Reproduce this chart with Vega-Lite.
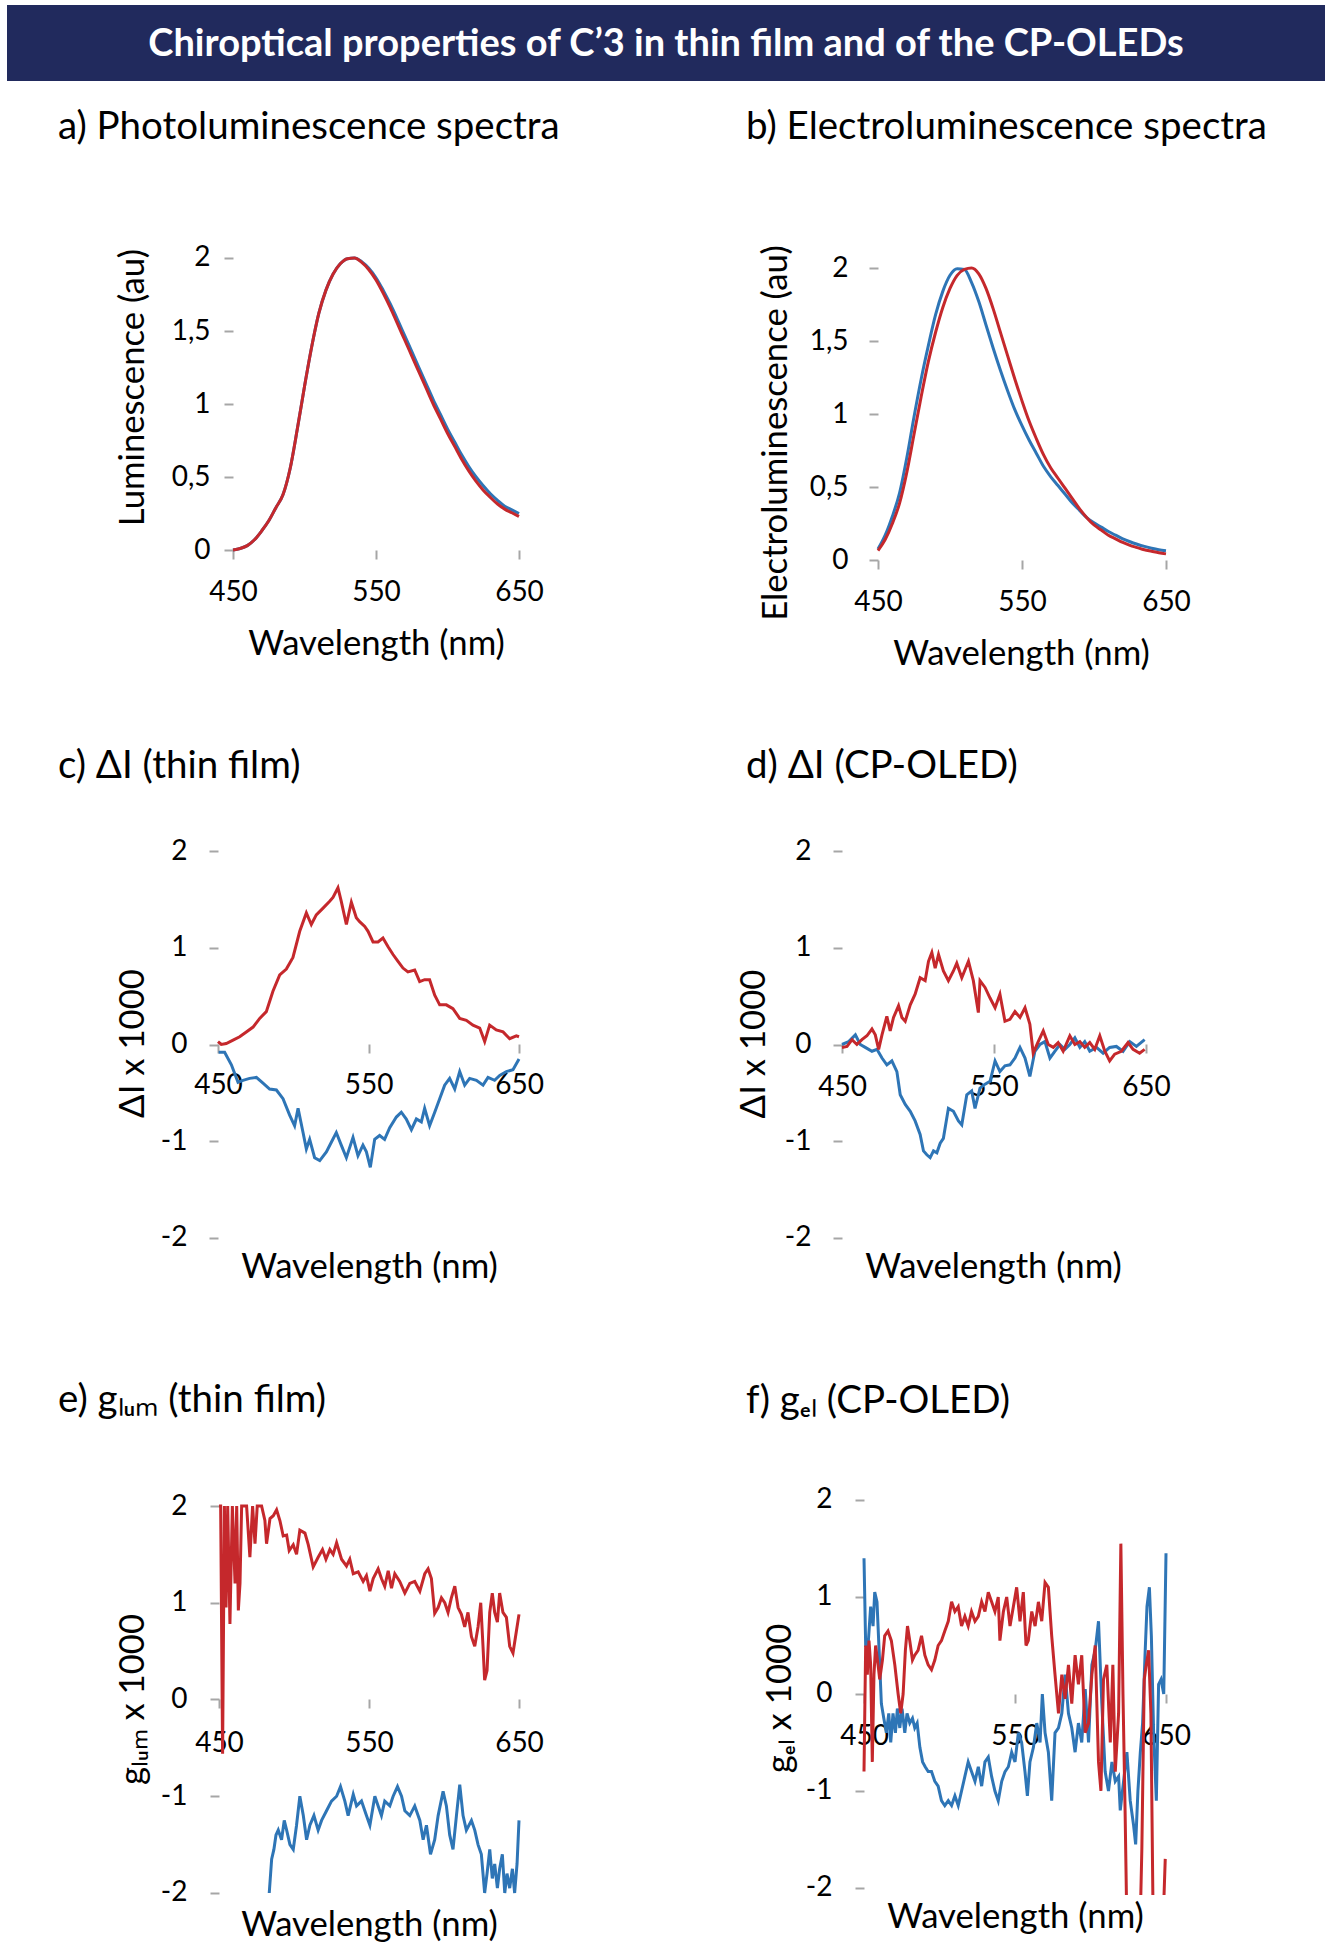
{
  "$schema": "https://vega.github.io/schema/vega-lite/v6.json",
  "padding": {"left": 7, "top": 5, "right": 0, "bottom": 0},
  "background": "white",
  "config": {
    "font": "Lato",
    "view": {"stroke": null},
    "axis": {"domain": false, "grid": false, "ticks": true, "tickColor": "#a6a6a6", "tickWidth": 2, "tickSize": 9, "labelFont": "Lato", "labelFontSize": 28, "labelColor": "#000000", "labelFlush": false, "labelOverlap": false, "titleFont": "Lato", "titleFontSize": 34.7, "titleFontWeight": "normal", "titleColor": "#000000"},
    "title": {"font": "Lato", "fontSize": 38.5, "fontWeight": "normal", "color": "#000000", "anchor": "start", "frame": "group", "baseline": "alphabetic"}
  },
  "datasets": {
    "axisline": [{"line": "axis"}],
    "pl": [
      {"nm":450,"v":0.00,"s":"A"},{"nm":455,"v":0.01,"s":"A"},{"nm":460,"v":0.03,"s":"A"},{"nm":465,"v":0.07,"s":"A"},{"nm":470,"v":0.13,"s":"A"},{"nm":475,"v":0.20,"s":"A"},{"nm":480,"v":0.29,"s":"A"},{"nm":485,"v":0.38,"s":"A"},{"nm":490,"v":0.56,"s":"A"},{"nm":495,"v":0.83,"s":"A"},{"nm":500,"v":1.12,"s":"A"},{"nm":505,"v":1.39,"s":"A"},{"nm":510,"v":1.62,"s":"A"},{"nm":515,"v":1.78,"s":"A"},{"nm":520,"v":1.89,"s":"A"},{"nm":525,"v":1.96,"s":"A"},{"nm":530,"v":1.995,"s":"A"},{"nm":535,"v":2.0,"s":"A"},{"nm":540,"v":1.975,"s":"A"},{"nm":545,"v":1.93,"s":"A"},{"nm":550,"v":1.865,"s":"A"},{"nm":555,"v":1.78,"s":"A"},{"nm":560,"v":1.685,"s":"A"},{"nm":565,"v":1.58,"s":"A"},{"nm":570,"v":1.47,"s":"A"},{"nm":575,"v":1.36,"s":"A"},{"nm":580,"v":1.25,"s":"A"},{"nm":585,"v":1.14,"s":"A"},{"nm":590,"v":1.03,"s":"A"},{"nm":595,"v":0.93,"s":"A"},{"nm":600,"v":0.83,"s":"A"},{"nm":605,"v":0.74,"s":"A"},{"nm":610,"v":0.65,"s":"A"},{"nm":615,"v":0.57,"s":"A"},{"nm":620,"v":0.50,"s":"A"},{"nm":625,"v":0.44,"s":"A"},{"nm":630,"v":0.385,"s":"A"},{"nm":635,"v":0.34,"s":"A"},{"nm":640,"v":0.30,"s":"A"},{"nm":645,"v":0.275,"s":"A"},{"nm":650,"v":0.25,"s":"A"},
      {"nm":450,"v":0.00,"s":"B"},{"nm":455,"v":0.01,"s":"B"},{"nm":460,"v":0.03,"s":"B"},{"nm":465,"v":0.07,"s":"B"},{"nm":470,"v":0.13,"s":"B"},{"nm":475,"v":0.20,"s":"B"},{"nm":480,"v":0.29,"s":"B"},{"nm":485,"v":0.38,"s":"B"},{"nm":490,"v":0.56,"s":"B"},{"nm":495,"v":0.83,"s":"B"},{"nm":500,"v":1.12,"s":"B"},{"nm":505,"v":1.39,"s":"B"},{"nm":510,"v":1.62,"s":"B"},{"nm":515,"v":1.78,"s":"B"},{"nm":520,"v":1.89,"s":"B"},{"nm":525,"v":1.96,"s":"B"},{"nm":530,"v":1.995,"s":"B"},{"nm":535,"v":2.0,"s":"B"},{"nm":540,"v":1.97,"s":"B"},{"nm":545,"v":1.92,"s":"B"},{"nm":550,"v":1.85,"s":"B"},{"nm":555,"v":1.76,"s":"B"},{"nm":560,"v":1.66,"s":"B"},{"nm":565,"v":1.55,"s":"B"},{"nm":570,"v":1.44,"s":"B"},{"nm":575,"v":1.33,"s":"B"},{"nm":580,"v":1.22,"s":"B"},{"nm":585,"v":1.11,"s":"B"},{"nm":590,"v":1.00,"s":"B"},{"nm":595,"v":0.90,"s":"B"},{"nm":600,"v":0.80,"s":"B"},{"nm":605,"v":0.71,"s":"B"},{"nm":610,"v":0.62,"s":"B"},{"nm":615,"v":0.54,"s":"B"},{"nm":620,"v":0.47,"s":"B"},{"nm":625,"v":0.41,"s":"B"},{"nm":630,"v":0.36,"s":"B"},{"nm":635,"v":0.315,"s":"B"},{"nm":640,"v":0.28,"s":"B"},{"nm":645,"v":0.255,"s":"B"},{"nm":650,"v":0.23,"s":"B"}
    ],
    "el": [
      {"nm":450,"v":0.075,"s":"A"},{"nm":455,"v":0.17,"s":"A"},{"nm":460,"v":0.30,"s":"A"},{"nm":465,"v":0.46,"s":"A"},{"nm":470,"v":0.70,"s":"A"},{"nm":475,"v":0.98,"s":"A"},{"nm":480,"v":1.24,"s":"A"},{"nm":485,"v":1.47,"s":"A"},{"nm":490,"v":1.68,"s":"A"},{"nm":495,"v":1.84,"s":"A"},{"nm":500,"v":1.95,"s":"A"},{"nm":505,"v":1.995,"s":"A"},{"nm":510,"v":1.99,"s":"A"},{"nm":515,"v":1.90,"s":"A"},{"nm":520,"v":1.77,"s":"A"},{"nm":525,"v":1.61,"s":"A"},{"nm":530,"v":1.45,"s":"A"},{"nm":535,"v":1.30,"s":"A"},{"nm":540,"v":1.16,"s":"A"},{"nm":545,"v":1.03,"s":"A"},{"nm":550,"v":0.92,"s":"A"},{"nm":555,"v":0.82,"s":"A"},{"nm":560,"v":0.73,"s":"A"},{"nm":565,"v":0.64,"s":"A"},{"nm":570,"v":0.57,"s":"A"},{"nm":575,"v":0.51,"s":"A"},{"nm":580,"v":0.45,"s":"A"},{"nm":585,"v":0.39,"s":"A"},{"nm":590,"v":0.34,"s":"A"},{"nm":595,"v":0.29,"s":"A"},{"nm":600,"v":0.255,"s":"A"},{"nm":605,"v":0.225,"s":"A"},{"nm":610,"v":0.195,"s":"A"},{"nm":615,"v":0.17,"s":"A"},{"nm":620,"v":0.145,"s":"A"},{"nm":625,"v":0.125,"s":"A"},{"nm":630,"v":0.108,"s":"A"},{"nm":635,"v":0.093,"s":"A"},{"nm":640,"v":0.08,"s":"A"},{"nm":645,"v":0.07,"s":"A"},{"nm":650,"v":0.064,"s":"A"},
      {"nm":450,"v":0.064,"s":"B"},{"nm":455,"v":0.14,"s":"B"},{"nm":460,"v":0.25,"s":"B"},{"nm":465,"v":0.39,"s":"B"},{"nm":470,"v":0.60,"s":"B"},{"nm":475,"v":0.86,"s":"B"},{"nm":480,"v":1.12,"s":"B"},{"nm":485,"v":1.36,"s":"B"},{"nm":490,"v":1.56,"s":"B"},{"nm":495,"v":1.73,"s":"B"},{"nm":500,"v":1.86,"s":"B"},{"nm":505,"v":1.95,"s":"B"},{"nm":510,"v":1.99,"s":"B"},{"nm":515,"v":2.0,"s":"B"},{"nm":520,"v":1.96,"s":"B"},{"nm":525,"v":1.86,"s":"B"},{"nm":530,"v":1.72,"s":"B"},{"nm":535,"v":1.56,"s":"B"},{"nm":540,"v":1.40,"s":"B"},{"nm":545,"v":1.24,"s":"B"},{"nm":550,"v":1.09,"s":"B"},{"nm":555,"v":0.95,"s":"B"},{"nm":560,"v":0.83,"s":"B"},{"nm":565,"v":0.72,"s":"B"},{"nm":570,"v":0.63,"s":"B"},{"nm":575,"v":0.56,"s":"B"},{"nm":580,"v":0.49,"s":"B"},{"nm":585,"v":0.42,"s":"B"},{"nm":590,"v":0.35,"s":"B"},{"nm":595,"v":0.29,"s":"B"},{"nm":600,"v":0.24,"s":"B"},{"nm":605,"v":0.205,"s":"B"},{"nm":610,"v":0.17,"s":"B"},{"nm":615,"v":0.145,"s":"B"},{"nm":620,"v":0.12,"s":"B"},{"nm":625,"v":0.10,"s":"B"},{"nm":630,"v":0.085,"s":"B"},{"nm":635,"v":0.07,"s":"B"},{"nm":640,"v":0.06,"s":"B"},{"nm":645,"v":0.05,"s":"B"},{"nm":650,"v":0.042,"s":"B"}
    ],
    "dtf": [
      {"nm":450.4,"v":-0.08,"s":"A"},{"nm":454.4,"v":-0.08,"s":"A"},{"nm":458.9,"v":-0.21,"s":"A"},{"nm":463.3,"v":-0.39,"s":"A"},{"nm":466.6,"v":-0.37,"s":"A"},{"nm":471.0,"v":-0.35,"s":"A"},{"nm":475.5,"v":-0.34,"s":"A"},{"nm":479.9,"v":-0.40,"s":"A"},{"nm":484.3,"v":-0.46,"s":"A"},{"nm":488.8,"v":-0.47,"s":"A"},{"nm":493.2,"v":-0.56,"s":"A"},{"nm":497.6,"v":-0.73,"s":"A"},{"nm":500.9,"v":-0.84,"s":"A"},{"nm":503.2,"v":-0.66,"s":"A"},{"nm":506.5,"v":-0.91,"s":"A"},{"nm":508.7,"v":-1.08,"s":"A"},{"nm":510.9,"v":-0.98,"s":"A"},{"nm":514.2,"v":-1.17,"s":"A"},{"nm":517.6,"v":-1.20,"s":"A"},{"nm":522.0,"v":-1.11,"s":"A"},{"nm":525.3,"v":-1.01,"s":"A"},{"nm":528.6,"v":-0.91,"s":"A"},{"nm":531.9,"v":-1.04,"s":"A"},{"nm":535.3,"v":-1.17,"s":"A"},{"nm":539.7,"v":-0.96,"s":"A"},{"nm":543.0,"v":-1.15,"s":"A"},{"nm":546.3,"v":-1.04,"s":"A"},{"nm":548.6,"v":-1.11,"s":"A"},{"nm":551.2,"v":-1.27,"s":"A"},{"nm":554.1,"v":-0.98,"s":"A"},{"nm":557.4,"v":-0.94,"s":"A"},{"nm":560.7,"v":-0.98,"s":"A"},{"nm":564.1,"v":-0.86,"s":"A"},{"nm":568.5,"v":-0.75,"s":"A"},{"nm":571.8,"v":-0.70,"s":"A"},{"nm":575.1,"v":-0.77,"s":"A"},{"nm":578.5,"v":-0.88,"s":"A"},{"nm":581.8,"v":-0.77,"s":"A"},{"nm":585.1,"v":-0.80,"s":"A"},{"nm":587.3,"v":-0.66,"s":"A"},{"nm":590.6,"v":-0.84,"s":"A"},{"nm":594.0,"v":-0.70,"s":"A"},{"nm":597.3,"v":-0.56,"s":"A"},{"nm":600.6,"v":-0.42,"s":"A"},{"nm":603.9,"v":-0.35,"s":"A"},{"nm":607.3,"v":-0.46,"s":"A"},{"nm":610.6,"v":-0.28,"s":"A"},{"nm":613.9,"v":-0.42,"s":"A"},{"nm":617.2,"v":-0.35,"s":"A"},{"nm":621.7,"v":-0.37,"s":"A"},{"nm":626.1,"v":-0.42,"s":"A"},{"nm":629.4,"v":-0.34,"s":"A"},{"nm":633.8,"v":-0.37,"s":"A"},{"nm":637.2,"v":-0.32,"s":"A"},{"nm":641.6,"v":-0.28,"s":"A"},{"nm":646.0,"v":-0.26,"s":"A"},{"nm":650.0,"v":-0.15,"s":"A"},
      {"nm":450.0,"v":0.03,"s":"B"},{"nm":452.2,"v":0.0,"s":"B"},{"nm":455.5,"v":0.01,"s":"B"},{"nm":460.0,"v":0.045,"s":"B"},{"nm":464.4,"v":0.08,"s":"B"},{"nm":468.8,"v":0.13,"s":"B"},{"nm":473.3,"v":0.18,"s":"B"},{"nm":477.7,"v":0.27,"s":"B"},{"nm":482.1,"v":0.34,"s":"B"},{"nm":486.5,"v":0.55,"s":"B"},{"nm":491.0,"v":0.72,"s":"B"},{"nm":495.4,"v":0.78,"s":"B"},{"nm":499.8,"v":0.90,"s":"B"},{"nm":504.3,"v":1.17,"s":"B"},{"nm":508.7,"v":1.36,"s":"B"},{"nm":512.0,"v":1.24,"s":"B"},{"nm":515.3,"v":1.34,"s":"B"},{"nm":519.8,"v":1.41,"s":"B"},{"nm":524.2,"v":1.48,"s":"B"},{"nm":526.4,"v":1.52,"s":"B"},{"nm":529.7,"v":1.62,"s":"B"},{"nm":531.9,"v":1.48,"s":"B"},{"nm":535.3,"v":1.24,"s":"B"},{"nm":538.6,"v":1.47,"s":"B"},{"nm":541.9,"v":1.31,"s":"B"},{"nm":544.1,"v":1.27,"s":"B"},{"nm":547.5,"v":1.22,"s":"B"},{"nm":549.7,"v":1.17,"s":"B"},{"nm":553.0,"v":1.06,"s":"B"},{"nm":556.3,"v":1.06,"s":"B"},{"nm":559.6,"v":1.10,"s":"B"},{"nm":563.0,"v":1.01,"s":"B"},{"nm":566.3,"v":0.93,"s":"B"},{"nm":569.6,"v":0.86,"s":"B"},{"nm":572.9,"v":0.79,"s":"B"},{"nm":576.2,"v":0.75,"s":"B"},{"nm":580.7,"v":0.77,"s":"B"},{"nm":584.0,"v":0.65,"s":"B"},{"nm":587.3,"v":0.67,"s":"B"},{"nm":590.6,"v":0.67,"s":"B"},{"nm":594.0,"v":0.51,"s":"B"},{"nm":597.3,"v":0.41,"s":"B"},{"nm":601.7,"v":0.41,"s":"B"},{"nm":606.1,"v":0.37,"s":"B"},{"nm":610.6,"v":0.27,"s":"B"},{"nm":615.0,"v":0.25,"s":"B"},{"nm":619.4,"v":0.20,"s":"B"},{"nm":623.9,"v":0.17,"s":"B"},{"nm":627.2,"v":0.03,"s":"B"},{"nm":630.5,"v":0.20,"s":"B"},{"nm":634.9,"v":0.15,"s":"B"},{"nm":639.4,"v":0.13,"s":"B"},{"nm":643.8,"v":0.06,"s":"B"},{"nm":648.2,"v":0.09,"s":"B"},{"nm":650.0,"v":0.08,"s":"B"}
    ],
    "dol": [
      {"nm":450.0,"v":0.0,"s":"A"},{"nm":454.4,"v":0.03,"s":"A"},{"nm":458.8,"v":0.10,"s":"A"},{"nm":462.0,"v":0.0,"s":"A"},{"nm":465.3,"v":-0.03,"s":"A"},{"nm":469.7,"v":-0.07,"s":"A"},{"nm":473.0,"v":-0.05,"s":"A"},{"nm":476.3,"v":-0.14,"s":"A"},{"nm":479.5,"v":-0.21,"s":"A"},{"nm":482.8,"v":-0.17,"s":"A"},{"nm":486.1,"v":-0.28,"s":"A"},{"nm":488.3,"v":-0.52,"s":"A"},{"nm":491.6,"v":-0.62,"s":"A"},{"nm":494.9,"v":-0.69,"s":"A"},{"nm":498.1,"v":-0.79,"s":"A"},{"nm":501.4,"v":-0.93,"s":"A"},{"nm":503.6,"v":-1.10,"s":"A"},{"nm":505.8,"v":-1.14,"s":"A"},{"nm":508.0,"v":-1.17,"s":"A"},{"nm":510.2,"v":-1.10,"s":"A"},{"nm":512.4,"v":-1.12,"s":"A"},{"nm":514.6,"v":-1.02,"s":"A"},{"nm":516.7,"v":-0.97,"s":"A"},{"nm":520.0,"v":-0.66,"s":"A"},{"nm":523.3,"v":-0.69,"s":"A"},{"nm":526.6,"v":-0.79,"s":"A"},{"nm":528.8,"v":-0.83,"s":"A"},{"nm":532.1,"v":-0.52,"s":"A"},{"nm":535.3,"v":-0.48,"s":"A"},{"nm":537.5,"v":-0.66,"s":"A"},{"nm":540.8,"v":-0.45,"s":"A"},{"nm":544.1,"v":-0.41,"s":"A"},{"nm":547.4,"v":-0.38,"s":"A"},{"nm":550.7,"v":-0.17,"s":"A"},{"nm":553.9,"v":-0.28,"s":"A"},{"nm":557.2,"v":-0.22,"s":"A"},{"nm":560.5,"v":-0.21,"s":"A"},{"nm":563.8,"v":-0.14,"s":"A"},{"nm":567.1,"v":-0.03,"s":"A"},{"nm":570.4,"v":-0.14,"s":"A"},{"nm":573.6,"v":-0.33,"s":"A"},{"nm":576.9,"v":-0.07,"s":"A"},{"nm":580.2,"v":0.0,"s":"A"},{"nm":583.5,"v":0.03,"s":"A"},{"nm":586.8,"v":-0.14,"s":"A"},{"nm":590.0,"v":-0.07,"s":"A"},{"nm":593.3,"v":0.0,"s":"A"},{"nm":596.6,"v":-0.05,"s":"A"},{"nm":599.9,"v":0.0,"s":"A"},{"nm":603.2,"v":0.07,"s":"A"},{"nm":606.5,"v":-0.03,"s":"A"},{"nm":609.7,"v":0.03,"s":"A"},{"nm":613.0,"v":-0.07,"s":"A"},{"nm":617.4,"v":-0.03,"s":"A"},{"nm":621.8,"v":-0.09,"s":"A"},{"nm":626.1,"v":-0.03,"s":"A"},{"nm":630.5,"v":-0.02,"s":"A"},{"nm":634.9,"v":-0.07,"s":"A"},{"nm":639.3,"v":0.03,"s":"A"},{"nm":643.7,"v":-0.02,"s":"A"},{"nm":649.1,"v":0.05,"s":"A"},
      {"nm":450.0,"v":-0.03,"s":"B"},{"nm":453.3,"v":-0.02,"s":"B"},{"nm":456.6,"v":0.05,"s":"B"},{"nm":459.8,"v":0.0,"s":"B"},{"nm":463.1,"v":0.05,"s":"B"},{"nm":466.4,"v":0.09,"s":"B"},{"nm":469.7,"v":0.16,"s":"B"},{"nm":471.9,"v":0.10,"s":"B"},{"nm":474.1,"v":-0.05,"s":"B"},{"nm":476.3,"v":0.10,"s":"B"},{"nm":479.5,"v":0.29,"s":"B"},{"nm":481.7,"v":0.14,"s":"B"},{"nm":483.9,"v":0.28,"s":"B"},{"nm":487.2,"v":0.40,"s":"B"},{"nm":489.4,"v":0.28,"s":"B"},{"nm":491.6,"v":0.24,"s":"B"},{"nm":494.9,"v":0.41,"s":"B"},{"nm":498.1,"v":0.52,"s":"B"},{"nm":501.4,"v":0.69,"s":"B"},{"nm":504.7,"v":0.66,"s":"B"},{"nm":506.9,"v":0.86,"s":"B"},{"nm":509.1,"v":0.95,"s":"B"},{"nm":511.3,"v":0.79,"s":"B"},{"nm":513.5,"v":0.93,"s":"B"},{"nm":516.7,"v":0.76,"s":"B"},{"nm":520.0,"v":0.66,"s":"B"},{"nm":523.3,"v":0.76,"s":"B"},{"nm":525.5,"v":0.84,"s":"B"},{"nm":528.8,"v":0.69,"s":"B"},{"nm":533.2,"v":0.86,"s":"B"},{"nm":536.4,"v":0.66,"s":"B"},{"nm":539.7,"v":0.33,"s":"B"},{"nm":540.8,"v":0.66,"s":"B"},{"nm":544.1,"v":0.59,"s":"B"},{"nm":547.4,"v":0.48,"s":"B"},{"nm":550.7,"v":0.38,"s":"B"},{"nm":553.9,"v":0.52,"s":"B"},{"nm":557.2,"v":0.24,"s":"B"},{"nm":560.5,"v":0.26,"s":"B"},{"nm":563.8,"v":0.34,"s":"B"},{"nm":567.1,"v":0.28,"s":"B"},{"nm":570.4,"v":0.38,"s":"B"},{"nm":573.6,"v":0.21,"s":"B"},{"nm":575.8,"v":-0.09,"s":"B"},{"nm":579.1,"v":0.03,"s":"B"},{"nm":582.4,"v":0.14,"s":"B"},{"nm":585.7,"v":0.0,"s":"B"},{"nm":589.0,"v":-0.03,"s":"B"},{"nm":592.2,"v":0.02,"s":"B"},{"nm":595.5,"v":-0.07,"s":"B"},{"nm":599.9,"v":0.09,"s":"B"},{"nm":603.2,"v":0.0,"s":"B"},{"nm":606.5,"v":0.03,"s":"B"},{"nm":609.7,"v":-0.03,"s":"B"},{"nm":613.0,"v":0.02,"s":"B"},{"nm":616.3,"v":-0.05,"s":"B"},{"nm":619.6,"v":0.09,"s":"B"},{"nm":622.9,"v":-0.07,"s":"B"},{"nm":626.1,"v":-0.17,"s":"B"},{"nm":629.4,"v":-0.10,"s":"B"},{"nm":633.8,"v":-0.07,"s":"B"},{"nm":638.2,"v":0.02,"s":"B"},{"nm":641.5,"v":-0.05,"s":"B"},{"nm":645.8,"v":-0.09,"s":"B"},{"nm":649.1,"v":-0.05,"s":"B"}
    ],
    "gtf": [
      {"nm":483.5,"v":-2.0,"s":"A"},{"nm":485.1,"v":-1.65,"s":"A"},{"nm":486.6,"v":-1.55,"s":"A"},{"nm":488.0,"v":-1.4,"s":"A"},{"nm":489.5,"v":-1.35,"s":"A"},{"nm":491.7,"v":-1.45,"s":"A"},{"nm":493.5,"v":-1.25,"s":"A"},{"nm":495.1,"v":-1.35,"s":"A"},{"nm":497.3,"v":-1.5,"s":"A"},{"nm":499.5,"v":-1.55,"s":"A"},{"nm":501.7,"v":-1.3,"s":"A"},{"nm":503.9,"v":-1.0,"s":"A"},{"nm":506.2,"v":-1.2,"s":"A"},{"nm":508.4,"v":-1.45,"s":"A"},{"nm":510.6,"v":-1.3,"s":"A"},{"nm":513.3,"v":-1.2,"s":"A"},{"nm":516.1,"v":-1.35,"s":"A"},{"nm":518.4,"v":-1.25,"s":"A"},{"nm":521.7,"v":-1.15,"s":"A"},{"nm":525.0,"v":-1.05,"s":"A"},{"nm":528.4,"v":-1.0,"s":"A"},{"nm":531.0,"v":-0.9,"s":"A"},{"nm":533.9,"v":-1.05,"s":"A"},{"nm":536.1,"v":-1.2,"s":"A"},{"nm":539.5,"v":-0.98,"s":"A"},{"nm":541.7,"v":-1.1,"s":"A"},{"nm":545.0,"v":-1.05,"s":"A"},{"nm":548.3,"v":-1.2,"s":"A"},{"nm":550.6,"v":-1.3,"s":"A"},{"nm":553.9,"v":-1.0,"s":"A"},{"nm":556.1,"v":-1.1,"s":"A"},{"nm":558.3,"v":-1.2,"s":"A"},{"nm":560.5,"v":-1.05,"s":"A"},{"nm":563.9,"v":-1.1,"s":"A"},{"nm":566.1,"v":-1.0,"s":"A"},{"nm":569.0,"v":-0.9,"s":"A"},{"nm":571.7,"v":-1.0,"s":"A"},{"nm":573.9,"v":-1.15,"s":"A"},{"nm":577.2,"v":-1.2,"s":"A"},{"nm":580.5,"v":-1.1,"s":"A"},{"nm":583.9,"v":-1.25,"s":"A"},{"nm":586.1,"v":-1.45,"s":"A"},{"nm":588.3,"v":-1.3,"s":"A"},{"nm":591.0,"v":-1.6,"s":"A"},{"nm":593.8,"v":-1.45,"s":"A"},{"nm":596.1,"v":-1.2,"s":"A"},{"nm":599.4,"v":-0.95,"s":"A"},{"nm":601.6,"v":-1.1,"s":"A"},{"nm":603.8,"v":-1.4,"s":"A"},{"nm":606.0,"v":-1.55,"s":"A"},{"nm":608.3,"v":-1.2,"s":"A"},{"nm":610.5,"v":-0.88,"s":"A"},{"nm":612.7,"v":-1.2,"s":"A"},{"nm":614.9,"v":-1.35,"s":"A"},{"nm":618.3,"v":-1.25,"s":"A"},{"nm":620.5,"v":-1.35,"s":"A"},{"nm":622.7,"v":-1.5,"s":"A"},{"nm":624.9,"v":-1.6,"s":"A"},{"nm":627.1,"v":-2.0,"s":"A"},{"nm":628.7,"v":-1.8,"s":"A"},{"nm":630.5,"v":-1.55,"s":"A"},{"nm":632.2,"v":-1.85,"s":"A"},{"nm":633.8,"v":-1.7,"s":"A"},{"nm":635.6,"v":-1.95,"s":"A"},{"nm":637.1,"v":-1.75,"s":"A"},{"nm":638.9,"v":-1.6,"s":"A"},{"nm":640.5,"v":-2.0,"s":"A"},{"nm":642.0,"v":-1.8,"s":"A"},{"nm":643.8,"v":-1.95,"s":"A"},{"nm":645.6,"v":-1.75,"s":"A"},{"nm":647.1,"v":-2.0,"s":"A"},{"nm":648.7,"v":-1.7,"s":"A"},{"nm":650.0,"v":-1.25,"s":"A"},
      {"nm":450.0,"v":2.0,"s":"B"},{"nm":451.1,"v":2.0,"s":"B"},{"nm":452.4,"v":-0.56,"s":"B"},{"nm":453.6,"v":2.0,"s":"B"},{"nm":454.7,"v":0.95,"s":"B"},{"nm":455.8,"v":2.0,"s":"B"},{"nm":457.3,"v":0.78,"s":"B"},{"nm":458.9,"v":2.0,"s":"B"},{"nm":460.7,"v":1.2,"s":"B"},{"nm":461.8,"v":2.0,"s":"B"},{"nm":462.9,"v":0.92,"s":"B"},{"nm":464.0,"v":1.2,"s":"B"},{"nm":465.1,"v":2.0,"s":"B"},{"nm":468.4,"v":2.0,"s":"B"},{"nm":470.6,"v":1.47,"s":"B"},{"nm":472.4,"v":2.0,"s":"B"},{"nm":474.0,"v":1.61,"s":"B"},{"nm":475.5,"v":2.0,"s":"B"},{"nm":478.4,"v":2.0,"s":"B"},{"nm":480.6,"v":1.85,"s":"B"},{"nm":481.7,"v":1.61,"s":"B"},{"nm":484.0,"v":1.87,"s":"B"},{"nm":486.2,"v":1.9,"s":"B"},{"nm":488.4,"v":1.96,"s":"B"},{"nm":490.6,"v":1.85,"s":"B"},{"nm":492.8,"v":1.69,"s":"B"},{"nm":495.1,"v":1.7,"s":"B"},{"nm":496.8,"v":1.54,"s":"B"},{"nm":499.5,"v":1.6,"s":"B"},{"nm":501.7,"v":1.5,"s":"B"},{"nm":503.9,"v":1.75,"s":"B"},{"nm":507.3,"v":1.72,"s":"B"},{"nm":509.5,"v":1.6,"s":"B"},{"nm":512.8,"v":1.37,"s":"B"},{"nm":516.1,"v":1.47,"s":"B"},{"nm":519.0,"v":1.55,"s":"B"},{"nm":521.3,"v":1.45,"s":"B"},{"nm":523.9,"v":1.55,"s":"B"},{"nm":526.1,"v":1.5,"s":"B"},{"nm":528.4,"v":1.62,"s":"B"},{"nm":531.7,"v":1.45,"s":"B"},{"nm":535.0,"v":1.38,"s":"B"},{"nm":537.2,"v":1.45,"s":"B"},{"nm":539.5,"v":1.3,"s":"B"},{"nm":542.8,"v":1.32,"s":"B"},{"nm":546.1,"v":1.22,"s":"B"},{"nm":548.3,"v":1.28,"s":"B"},{"nm":550.6,"v":1.12,"s":"B"},{"nm":552.8,"v":1.25,"s":"B"},{"nm":556.1,"v":1.35,"s":"B"},{"nm":558.3,"v":1.25,"s":"B"},{"nm":560.5,"v":1.17,"s":"B"},{"nm":562.8,"v":1.33,"s":"B"},{"nm":565.0,"v":1.15,"s":"B"},{"nm":567.2,"v":1.3,"s":"B"},{"nm":570.5,"v":1.22,"s":"B"},{"nm":573.9,"v":1.1,"s":"B"},{"nm":577.2,"v":1.2,"s":"B"},{"nm":580.5,"v":1.22,"s":"B"},{"nm":583.9,"v":1.12,"s":"B"},{"nm":587.2,"v":1.3,"s":"B"},{"nm":589.4,"v":1.35,"s":"B"},{"nm":591.6,"v":1.25,"s":"B"},{"nm":593.8,"v":0.89,"s":"B"},{"nm":596.1,"v":0.95,"s":"B"},{"nm":598.3,"v":1.05,"s":"B"},{"nm":600.5,"v":1.0,"s":"B"},{"nm":602.7,"v":0.9,"s":"B"},{"nm":604.9,"v":1.05,"s":"B"},{"nm":607.2,"v":1.17,"s":"B"},{"nm":609.4,"v":0.95,"s":"B"},{"nm":611.6,"v":0.88,"s":"B"},{"nm":613.8,"v":0.75,"s":"B"},{"nm":616.0,"v":0.9,"s":"B"},{"nm":618.3,"v":0.65,"s":"B"},{"nm":620.5,"v":0.55,"s":"B"},{"nm":622.7,"v":0.75,"s":"B"},{"nm":624.5,"v":1.0,"s":"B"},{"nm":626.0,"v":0.55,"s":"B"},{"nm":627.1,"v":0.2,"s":"B"},{"nm":628.7,"v":0.3,"s":"B"},{"nm":630.5,"v":0.9,"s":"B"},{"nm":632.2,"v":1.1,"s":"B"},{"nm":633.8,"v":0.9,"s":"B"},{"nm":635.6,"v":0.8,"s":"B"},{"nm":637.1,"v":1.1,"s":"B"},{"nm":639.3,"v":0.9,"s":"B"},{"nm":641.6,"v":0.85,"s":"B"},{"nm":643.8,"v":0.55,"s":"B"},{"nm":646.0,"v":0.48,"s":"B"},{"nm":648.2,"v":0.7,"s":"B"},{"nm":650.0,"v":0.88,"s":"B"}
    ],
    "gol": [
      {"nm":450.0,"v":1.4,"s":"A"},{"nm":451.1,"v":0.5,"s":"A"},{"nm":452.7,"v":0.5,"s":"A"},{"nm":454.4,"v":0.9,"s":"A"},{"nm":456.0,"v":0.7,"s":"A"},{"nm":457.1,"v":1.05,"s":"A"},{"nm":458.6,"v":0.95,"s":"A"},{"nm":460.0,"v":0.45,"s":"A"},{"nm":461.5,"v":-0.1,"s":"A"},{"nm":463.1,"v":-0.25,"s":"A"},{"nm":464.8,"v":-0.4,"s":"A"},{"nm":466.4,"v":-0.2,"s":"A"},{"nm":467.7,"v":-0.5,"s":"A"},{"nm":469.2,"v":-0.2,"s":"A"},{"nm":470.8,"v":-0.4,"s":"A"},{"nm":472.1,"v":-0.15,"s":"A"},{"nm":473.7,"v":-0.35,"s":"A"},{"nm":475.2,"v":-0.15,"s":"A"},{"nm":477.0,"v":-0.4,"s":"A"},{"nm":478.5,"v":-0.2,"s":"A"},{"nm":480.3,"v":-0.3,"s":"A"},{"nm":482.1,"v":-0.25,"s":"A"},{"nm":483.6,"v":-0.35,"s":"A"},{"nm":485.2,"v":-0.3,"s":"A"},{"nm":487.0,"v":-0.55,"s":"A"},{"nm":488.8,"v":-0.7,"s":"A"},{"nm":490.5,"v":-0.75,"s":"A"},{"nm":492.5,"v":-0.8,"s":"A"},{"nm":494.7,"v":-0.8,"s":"A"},{"nm":496.9,"v":-0.9,"s":"A"},{"nm":499.1,"v":-0.95,"s":"A"},{"nm":501.3,"v":-1.1,"s":"A"},{"nm":503.5,"v":-1.15,"s":"A"},{"nm":505.8,"v":-1.1,"s":"A"},{"nm":508.0,"v":-1.15,"s":"A"},{"nm":510.2,"v":-1.05,"s":"A"},{"nm":512.4,"v":-1.15,"s":"A"},{"nm":514.6,"v":-1.0,"s":"A"},{"nm":516.8,"v":-0.85,"s":"A"},{"nm":519.0,"v":-0.7,"s":"A"},{"nm":521.2,"v":-0.8,"s":"A"},{"nm":523.5,"v":-0.9,"s":"A"},{"nm":525.7,"v":-0.75,"s":"A"},{"nm":527.9,"v":-0.95,"s":"A"},{"nm":530.1,"v":-0.7,"s":"A"},{"nm":532.3,"v":-0.65,"s":"A"},{"nm":534.5,"v":-0.85,"s":"A"},{"nm":536.7,"v":-1.0,"s":"A"},{"nm":538.9,"v":-1.1,"s":"A"},{"nm":541.2,"v":-0.9,"s":"A"},{"nm":543.4,"v":-0.8,"s":"A"},{"nm":545.6,"v":-0.75,"s":"A"},{"nm":547.8,"v":-0.6,"s":"A"},{"nm":550.0,"v":-0.7,"s":"A"},{"nm":552.2,"v":-0.4,"s":"A"},{"nm":554.4,"v":-0.5,"s":"A"},{"nm":556.6,"v":-0.8,"s":"A"},{"nm":558.2,"v":-1.05,"s":"A"},{"nm":559.9,"v":-0.7,"s":"A"},{"nm":562.2,"v":-0.55,"s":"A"},{"nm":564.4,"v":-0.3,"s":"A"},{"nm":566.6,"v":-0.5,"s":"A"},{"nm":568.1,"v":0.0,"s":"A"},{"nm":569.9,"v":-0.4,"s":"A"},{"nm":572.1,"v":-0.6,"s":"A"},{"nm":574.3,"v":-1.1,"s":"A"},{"nm":576.5,"v":-0.4,"s":"A"},{"nm":578.8,"v":-0.35,"s":"A"},{"nm":581.0,"v":-0.2,"s":"A"},{"nm":583.2,"v":0.2,"s":"A"},{"nm":585.4,"v":-0.2,"s":"A"},{"nm":587.6,"v":-0.35,"s":"A"},{"nm":589.8,"v":-0.6,"s":"A"},{"nm":592.0,"v":-0.3,"s":"A"},{"nm":594.2,"v":-0.5,"s":"A"},{"nm":596.5,"v":0.05,"s":"A"},{"nm":598.7,"v":-0.5,"s":"A"},{"nm":600.9,"v":0.3,"s":"A"},{"nm":603.1,"v":0.45,"s":"A"},{"nm":605.3,"v":0.75,"s":"A"},{"nm":607.5,"v":-0.1,"s":"A"},{"nm":609.7,"v":-0.8,"s":"A"},{"nm":611.9,"v":-1.0,"s":"A"},{"nm":614.2,"v":-0.7,"s":"A"},{"nm":616.4,"v":-0.9,"s":"A"},{"nm":618.6,"v":-0.85,"s":"A"},{"nm":619.7,"v":-1.2,"s":"A"},{"nm":621.9,"v":-0.9,"s":"A"},{"nm":624.1,"v":-0.6,"s":"A"},{"nm":626.3,"v":-1.1,"s":"A"},{"nm":628.5,"v":-1.35,"s":"A"},{"nm":629.9,"v":-1.55,"s":"A"},{"nm":631.4,"v":-1.0,"s":"A"},{"nm":633.0,"v":-0.6,"s":"A"},{"nm":634.5,"v":-0.3,"s":"A"},{"nm":636.1,"v":0.4,"s":"A"},{"nm":637.4,"v":0.9,"s":"A"},{"nm":639.0,"v":1.1,"s":"A"},{"nm":640.3,"v":0.6,"s":"A"},{"nm":641.8,"v":-0.4,"s":"A"},{"nm":643.6,"v":-1.1,"s":"A"},{"nm":645.1,"v":0.1,"s":"A"},{"nm":646.7,"v":0.15,"s":"A"},{"nm":648.5,"v":0.0,"s":"A"},{"nm":650.0,"v":1.45,"s":"A"},
      {"nm":450.0,"v":-0.8,"s":"B"},{"nm":451.1,"v":0.5,"s":"B"},{"nm":452.2,"v":0.2,"s":"B"},{"nm":453.3,"v":0.55,"s":"B"},{"nm":454.4,"v":0.3,"s":"B"},{"nm":455.5,"v":-0.7,"s":"B"},{"nm":456.6,"v":0.2,"s":"B"},{"nm":457.7,"v":0.5,"s":"B"},{"nm":459.3,"v":0.3,"s":"B"},{"nm":460.4,"v":0.15,"s":"B"},{"nm":462.2,"v":0.35,"s":"B"},{"nm":463.7,"v":0.6,"s":"B"},{"nm":465.9,"v":0.65,"s":"B"},{"nm":468.1,"v":0.55,"s":"B"},{"nm":470.4,"v":0.3,"s":"B"},{"nm":472.6,"v":0.0,"s":"B"},{"nm":474.3,"v":-0.2,"s":"B"},{"nm":475.9,"v":0.0,"s":"B"},{"nm":477.4,"v":0.45,"s":"B"},{"nm":478.8,"v":0.7,"s":"B"},{"nm":480.3,"v":0.55,"s":"B"},{"nm":482.1,"v":0.35,"s":"B"},{"nm":483.6,"v":0.4,"s":"B"},{"nm":485.8,"v":0.45,"s":"B"},{"nm":488.1,"v":0.6,"s":"B"},{"nm":490.3,"v":0.4,"s":"B"},{"nm":492.5,"v":0.3,"s":"B"},{"nm":494.7,"v":0.25,"s":"B"},{"nm":496.9,"v":0.35,"s":"B"},{"nm":499.1,"v":0.5,"s":"B"},{"nm":501.3,"v":0.55,"s":"B"},{"nm":503.5,"v":0.65,"s":"B"},{"nm":505.8,"v":0.75,"s":"B"},{"nm":508.0,"v":0.95,"s":"B"},{"nm":510.2,"v":0.85,"s":"B"},{"nm":512.4,"v":0.9,"s":"B"},{"nm":514.6,"v":0.7,"s":"B"},{"nm":516.8,"v":0.8,"s":"B"},{"nm":519.0,"v":0.7,"s":"B"},{"nm":521.2,"v":0.85,"s":"B"},{"nm":523.5,"v":0.75,"s":"B"},{"nm":525.7,"v":0.8,"s":"B"},{"nm":527.9,"v":0.95,"s":"B"},{"nm":530.1,"v":0.85,"s":"B"},{"nm":532.3,"v":1.05,"s":"B"},{"nm":534.5,"v":0.95,"s":"B"},{"nm":536.7,"v":0.85,"s":"B"},{"nm":538.9,"v":1.0,"s":"B"},{"nm":540.0,"v":0.55,"s":"B"},{"nm":542.3,"v":0.85,"s":"B"},{"nm":544.5,"v":1.0,"s":"B"},{"nm":546.7,"v":0.7,"s":"B"},{"nm":548.9,"v":0.9,"s":"B"},{"nm":551.1,"v":1.1,"s":"B"},{"nm":553.3,"v":0.75,"s":"B"},{"nm":555.5,"v":1.05,"s":"B"},{"nm":557.3,"v":0.5,"s":"B"},{"nm":558.8,"v":0.55,"s":"B"},{"nm":561.1,"v":0.85,"s":"B"},{"nm":563.3,"v":0.7,"s":"B"},{"nm":565.5,"v":0.95,"s":"B"},{"nm":567.7,"v":0.75,"s":"B"},{"nm":569.9,"v":1.15,"s":"B"},{"nm":572.1,"v":1.1,"s":"B"},{"nm":574.3,"v":0.6,"s":"B"},{"nm":576.5,"v":0.2,"s":"B"},{"nm":578.8,"v":-0.2,"s":"B"},{"nm":581.0,"v":0.2,"s":"B"},{"nm":583.2,"v":-0.05,"s":"B"},{"nm":585.4,"v":0.3,"s":"B"},{"nm":587.6,"v":-0.1,"s":"B"},{"nm":589.8,"v":0.4,"s":"B"},{"nm":592.0,"v":0.1,"s":"B"},{"nm":594.2,"v":0.4,"s":"B"},{"nm":596.5,"v":-0.4,"s":"B"},{"nm":598.7,"v":-0.3,"s":"B"},{"nm":600.9,"v":0.2,"s":"B"},{"nm":603.1,"v":0.5,"s":"B"},{"nm":605.3,"v":-0.7,"s":"B"},{"nm":606.9,"v":-1.0,"s":"B"},{"nm":608.6,"v":0.15,"s":"B"},{"nm":610.8,"v":0.3,"s":"B"},{"nm":613.1,"v":-0.5,"s":"B"},{"nm":614.8,"v":0.3,"s":"B"},{"nm":616.4,"v":-0.8,"s":"B"},{"nm":618.6,"v":-0.2,"s":"B"},{"nm":620.1,"v":1.55,"s":"B"},{"nm":621.5,"v":0.0,"s":"B"},{"nm":622.9,"v":-1.2,"s":"B"},{"nm":624.5,"v":-2.8,"s":"B"},{"nm":626.5,"v":-2.3,"s":"B"},{"nm":628.0,"v":-3.0,"s":"B"},{"nm":630.0,"v":-2.2,"s":"B"},{"nm":632.0,"v":-3.0,"s":"B"},{"nm":634.0,"v":-1.6,"s":"B"},{"nm":635.6,"v":0.15,"s":"B"},{"nm":636.9,"v":0.3,"s":"B"},{"nm":638.5,"v":0.45,"s":"B"},{"nm":640.0,"v":-0.2,"s":"B"},{"nm":641.8,"v":-2.8,"s":"B"},{"nm":644.0,"v":-3.0,"s":"B"},{"nm":646.7,"v":-3.0,"s":"B"},{"nm":649.5,"v":-1.7,"s":"B"}
    ]
  },
  "columns": 1,
  "align": "none",
  "spacing": 26,
  "concat": [
    {
      "width": 1318, "height": 76,
      "view": {"fill": "#212a5d", "stroke": null},
      "data": {"values": [{"t": "Chiroptical properties of C’3 in thin film and of the CP-OLEDs"}]},
      "mark": {"type": "text", "color": "#ffffff", "font": "Lato", "fontWeight": "bold", "fontSize": 38, "align": "center", "baseline": "alphabetic", "dy": 13},
      "encoding": {"text": {"field": "t", "type": "nominal"}}
    },
    {
      "columns": 2,
      "bounds": "flush",
      "align": "each",
      "spacing": {"row": 249, "column": 288},
      "concat": [
        {
          "width": 540, "height": 400,
          "title": {"text": "a) Photoluminescence spectra", "dx": 51, "offset": 50},
          "data": {"name": "pl"},
          "encoding": {
            "x": {"field": "nm", "type": "quantitative", "scale": {"domain": [291.96, 669.58], "nice": false, "zero": false},
                  "axis": {"values": [450, 550, 650], "offset": -47, "labelPadding": 19, "labelExpr": "'' + datum.value", "title": "Wavelength (nm)", "titleX": 369, "titleY": 104, "titleAlign": "center", "titleBaseline": "alphabetic"}},
            "y": {"field": "v", "type": "quantitative", "scale": {"domain": [-0.3219, 2.4178], "nice": false, "zero": false},
                  "axis": {"values": [0, 0.5, 1, 1.5, 2], "offset": -226, "labelPadding": 14, "labelExpr": "replace('' + datum.value, '.', ',')", "title": "Luminescence (au)", "titleX": -90, "titleY": 190, "titleAngle": -90, "titleAlign": "center", "titleBaseline": "alphabetic"}}
          },
          "layer": [
            {"data": {"name": "axisline"}, "mark": {"type": "rule", "color": "#a6a6a6", "strokeWidth": 2}, "encoding": {"x": {"datum": 450}, "x2": {"datum": 650}, "y": {"datum": 0}}},
            {"data": {"name": "axisline"}, "mark": {"type": "rule", "color": "#a6a6a6", "strokeWidth": 2}, "encoding": {"x": {"datum": 450}, "y": {"datum": 0}, "y2": {"datum": 2.2}}},
            {"transform": [{"filter": "datum.s === 'A'"}], "mark": {"type": "line", "color": "#2e75b6", "strokeWidth": 3, "interpolate": "monotone"}},
            {"transform": [{"filter": "datum.s === 'B'"}], "mark": {"type": "line", "color": "#c5282c", "strokeWidth": 3, "interpolate": "monotone"}}
          ]
        },
        {
          "width": 337, "height": 400,
          "title": {"text": "b) Electroluminescence spectra", "dx": -89, "offset": 50},
          "data": {"name": "el"},
          "encoding": {
            "x": {"field": "nm", "type": "quantitative", "scale": {"domain": [420.14, 654.17], "nice": false, "zero": false},
                  "axis": {"values": [450, 550, 650], "offset": -37, "labelPadding": 19, "labelExpr": "'' + datum.value", "title": "Wavelength (nm)", "titleX": 186, "titleY": 104, "titleAlign": "center", "titleBaseline": "alphabetic"}},
            "y": {"field": "v", "type": "quantitative", "scale": {"domain": [-0.2534, 2.4863], "nice": false, "zero": false},
                  "axis": {"values": [0, 0.5, 1, 1.5, 2], "offset": -43, "labelPadding": 21, "labelExpr": "replace('' + datum.value, '.', ',')", "title": "Electroluminescence (au)", "titleX": -92, "titleY": 235.5, "titleAngle": -90, "titleAlign": "center", "titleBaseline": "alphabetic"}}
          },
          "layer": [
            {"data": {"name": "axisline"}, "mark": {"type": "rule", "color": "#a6a6a6", "strokeWidth": 2}, "encoding": {"x": {"datum": 450}, "x2": {"datum": 650}, "y": {"datum": 0}}},
            {"data": {"name": "axisline"}, "mark": {"type": "rule", "color": "#a6a6a6", "strokeWidth": 2}, "encoding": {"x": {"datum": 450}, "y": {"datum": 0}, "y2": {"datum": 2.2}}},
            {"transform": [{"filter": "datum.s === 'A'"}], "mark": {"type": "line", "color": "#2e75b6", "strokeWidth": 3, "interpolate": "monotone"}},
            {"transform": [{"filter": "datum.s === 'B'"}], "mark": {"type": "line", "color": "#c5282c", "strokeWidth": 3, "interpolate": "monotone"}}
          ]
        },
        {
          "width": 540, "height": 400,
          "title": {"text": "c) ΔI (thin film)", "dx": 51, "offset": 50.5},
          "data": {"name": "dtf"},
          "encoding": {
            "x": {"field": "nm", "type": "quantitative", "scale": {"domain": [309.80, 668.60], "nice": false, "zero": false},
                  "axis": {"values": [450, 550, 650], "offset": -202, "labelPadding": 18.5, "labelExpr": "'' + datum.value", "title": "Wavelength (nm)", "titleX": 362, "titleY": 233, "titleAlign": "center", "titleBaseline": "alphabetic"}},
            "y": {"field": "v", "type": "quantitative", "scale": {"domain": [-2.0827, 2.0517], "nice": false, "zero": false},
                  "axis": {"values": [-2, -1, 0, 1, 2], "offset": -211, "labelPadding": 22, "labelExpr": "'' + datum.value", "title": "ΔI x 1000", "titleX": -75, "titleY": 197, "titleAngle": -90, "titleAlign": "center", "titleBaseline": "alphabetic"}}
          },
          "layer": [
            {"data": {"name": "axisline"}, "mark": {"type": "rule", "color": "#a6a6a6", "strokeWidth": 2}, "encoding": {"x": {"datum": 450}, "x2": {"datum": 650}, "y": {"datum": 0}}},
            {"data": {"name": "axisline"}, "mark": {"type": "rule", "color": "#a6a6a6", "strokeWidth": 2}, "encoding": {"x": {"datum": 450}, "y": {"datum": -2}, "y2": {"datum": 2}}},
            {"transform": [{"filter": "datum.s === 'A'"}], "mark": {"type": "line", "color": "#2e75b6", "strokeWidth": 3}},
            {"transform": [{"filter": "datum.s === 'B'"}], "mark": {"type": "line", "color": "#c5282c", "strokeWidth": 3}}
          ]
        },
        {
          "width": 337, "height": 400,
          "title": {"text": "d) ΔI (CP-OLED)", "dx": -89, "offset": 50.5},
          "data": {"name": "dol"},
          "encoding": {
            "x": {"field": "nm", "type": "quantitative", "scale": {"domain": [445.39, 667.11], "nice": false, "zero": false},
                  "axis": {"values": [450, 550, 650], "offset": -202, "labelPadding": 20, "labelExpr": "'' + datum.value", "title": "Wavelength (nm)", "titleX": 158, "titleY": 233, "titleAlign": "center", "titleBaseline": "alphabetic"}},
            "y": {"field": "v", "type": "quantitative", "scale": {"domain": [-2.0827, 2.0517], "nice": false, "zero": false},
                  "axis": {"values": [-2, -1, 0, 1, 2], "offset": -7, "labelPadding": 22, "labelExpr": "'' + datum.value", "title": "ΔI x 1000", "titleX": -78, "titleY": 197.5, "titleAngle": -90, "titleAlign": "center", "titleBaseline": "alphabetic"}}
          },
          "layer": [
            {"data": {"name": "axisline"}, "mark": {"type": "rule", "color": "#a6a6a6", "strokeWidth": 2}, "encoding": {"x": {"datum": 450}, "x2": {"datum": 650}, "y": {"datum": 0}}},
            {"data": {"name": "axisline"}, "mark": {"type": "rule", "color": "#a6a6a6", "strokeWidth": 2}, "encoding": {"x": {"datum": 450}, "y": {"datum": -2}, "y2": {"datum": 2}}},
            {"transform": [{"filter": "datum.s === 'A'"}], "mark": {"type": "line", "color": "#2e75b6", "strokeWidth": 3}},
            {"transform": [{"filter": "datum.s === 'B'"}], "mark": {"type": "line", "color": "#c5282c", "strokeWidth": 3}}
          ]
        },
        {
          "width": 540, "height": 400,
          "title": {"text": "e) gₗᵤₘ (thin film)", "dx": 51, "offset": 71.3},
          "data": {"name": "gtf"},
          "encoding": {
            "x": {"field": "nm", "type": "quantitative", "scale": {"domain": [308.67, 668.67], "nice": false, "zero": false},
                  "axis": {"values": [450, 550, 650], "offset": -196, "labelPadding": 21, "labelExpr": "'' + datum.value", "title": "Wavelength (nm)", "titleX": 362, "titleY": 236.5, "titleAlign": "center", "titleBaseline": "alphabetic"}},
            "y": {"field": "v", "type": "quantitative", "scale": {"domain": [-2.0207, 2.1137], "nice": false, "zero": false},
                  "axis": {"values": [-2, -1, 0, 1, 2], "offset": -212, "labelPadding": 23, "labelExpr": "'' + datum.value", "title": "gₗᵤₘ x 1000", "titleX": -76, "titleY": 204, "titleAngle": -90, "titleAlign": "center", "titleBaseline": "alphabetic"}}
          },
          "layer": [
            {"data": {"name": "axisline"}, "mark": {"type": "rule", "color": "#a6a6a6", "strokeWidth": 2}, "encoding": {"x": {"datum": 450}, "x2": {"datum": 650}, "y": {"datum": 0}}},
            {"data": {"name": "axisline"}, "mark": {"type": "rule", "color": "#a6a6a6", "strokeWidth": 2}, "encoding": {"x": {"datum": 450}, "y": {"datum": -2}, "y2": {"datum": 2}}},
            {"transform": [{"filter": "datum.s === 'A'"}], "mark": {"type": "line", "color": "#2e75b6", "strokeWidth": 3, "clip": true}},
            {"transform": [{"filter": "datum.s === 'B'"}], "mark": {"type": "line", "color": "#c5282c", "strokeWidth": 3, "clip": true}}
          ]
        },
        {
          "width": 337, "height": 400,
          "title": {"text": "f) gₑₗ (CP-OLED)", "dx": -89, "offset": 64},
          "data": {"name": "gol"},
          "encoding": {
            "x": {"field": "nm", "type": "quantitative", "scale": {"domain": [430.79, 653.97], "nice": false, "zero": false},
                  "axis": {"values": [450, 550, 650], "offset": -201, "labelPadding": 19.5, "labelExpr": "'' + datum.value", "title": "Wavelength (nm)", "titleX": 180, "titleY": 233, "titleAlign": "center", "titleBaseline": "alphabetic"}},
            "y": {"field": "v", "type": "quantitative", "scale": {"domain": [-2.0722, 2.0515], "nice": false, "zero": false},
                  "axis": {"values": [-2, -1, 0, 1, 2], "offset": -29, "labelPadding": 23, "labelExpr": "'' + datum.value", "title": "gₑₗ x 1000", "titleX": -74, "titleY": 203, "titleAngle": -90, "titleAlign": "center", "titleBaseline": "alphabetic"}}
          },
          "layer": [
            {"data": {"name": "axisline"}, "mark": {"type": "rule", "color": "#a6a6a6", "strokeWidth": 2}, "encoding": {"x": {"datum": 450}, "x2": {"datum": 650}, "y": {"datum": 0}}},
            {"data": {"name": "axisline"}, "mark": {"type": "rule", "color": "#a6a6a6", "strokeWidth": 2}, "encoding": {"x": {"datum": 450}, "y": {"datum": -2}, "y2": {"datum": 2}}},
            {"transform": [{"filter": "datum.s === 'A'"}], "mark": {"type": "line", "color": "#2e75b6", "strokeWidth": 3, "clip": true}},
            {"transform": [{"filter": "datum.s === 'B'"}], "mark": {"type": "line", "color": "#c5282c", "strokeWidth": 3, "clip": true}}
          ]
        }
      ]
    }
  ]
}
